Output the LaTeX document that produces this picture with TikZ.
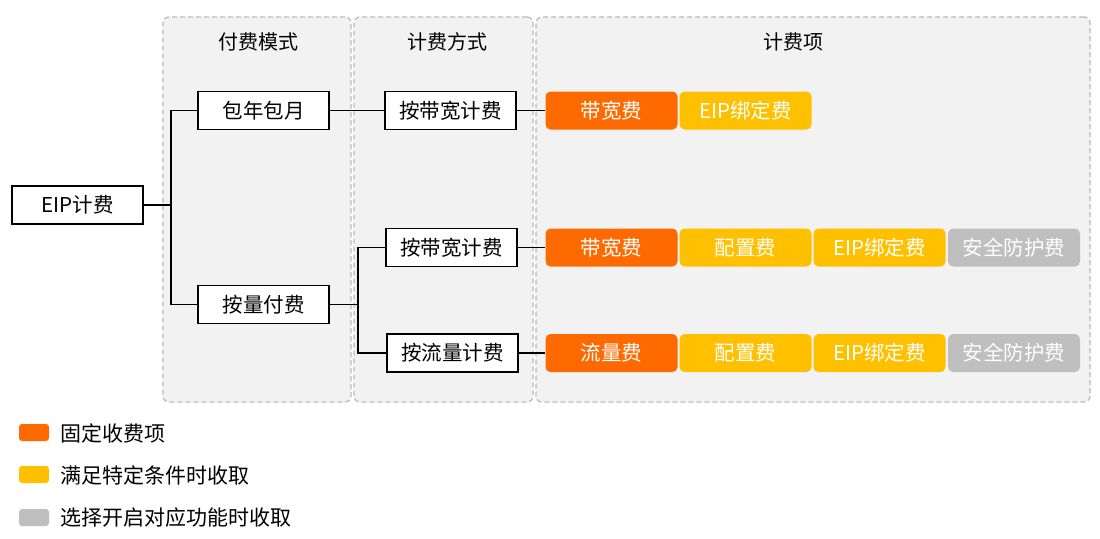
\documentclass[tikz,border=0pt]{standalone}
\usepackage{fontspec}
\setmainfont{Noto Sans CJK SC}
\definecolor{cOrange}{HTML}{FF6A00}
\definecolor{cYellow}{HTML}{FFC000}
\definecolor{cGray}{HTML}{BFBFBF}
\definecolor{cPanel}{HTML}{F2F2F2}
\definecolor{cDash}{HTML}{BBBBBB}
\begin{document}
\begin{tikzpicture}[x=1pt,y=-1pt,
  panel/.style={draw=cDash, fill=cPanel, rounded corners=6pt, line width=1.3pt, dash pattern=on 5pt off 3pt, inner sep=0pt},
  title/.style={font=\fontsize{20}{20}\selectfont, inner sep=0pt},
  wbox/.style={draw=black, line width=1.8pt, fill=white, minimum width=131pt, minimum height=38pt, inner sep=0pt, font=\fontsize{20.5}{20.5}\selectfont},
  fee/.style={rounded corners=5pt, minimum width=132pt, minimum height=38pt, inner sep=0pt, text=white, font=\fontsize{20.5}{20.5}\selectfont},
  fo/.style={fee, fill=cOrange},
  fy/.style={fee, fill=cYellow},
  fg/.style={fee, fill=cGray},
  legsq/.style={rounded corners=3pt, minimum width=30pt, minimum height=17pt, inner sep=0pt},
  legtxt/.style={anchor=west, inner sep=0pt, font=\fontsize{21}{21}\selectfont},
  conn/.style={draw=black, line width=1.8pt}
]
\useasboundingbox (0,0) rectangle (1100,538);
% panels
\node[panel, minimum width=188pt, minimum height=385pt] (p1) at (257,209.5) {};
\node[panel, minimum width=179pt, minimum height=385pt] (p2) at (443.5,209.5) {};
\node[panel, minimum width=554pt, minimum height=385pt] (p3) at (813,209.5) {};
\node[title] (t1) at (258,42) {付费模式};
\node[title] (t2) at (447,42) {计费方式};
\node[title] (t3) at (793,42) {计费项};
% boxes
\node[wbox] (eip) at (77.5,205) {EIP计费};
\node[wbox] (bn) at (263.5,110.5) {包年包月};
\node[wbox] (al) at (263.5,304.5) {按量付费};
\node[wbox] (bw1) at (450.5,110.5) {按带宽计费};
\node[wbox] (bw2) at (451.5,247.5) {按带宽计费};
\node[wbox] (ll) at (452.5,353) {按流量计费};
% fees
\node[fo] (f11) at (611.5,110.5) {带宽费};
\node[fy] (f12) at (745.5,110.5) {EIP绑定费};
\node[fo] (f21) at (611.5,247.5) {带宽费};
\node[fy] (f22) at (745.5,247.5) {配置费};
\node[fy] (f23) at (879.5,247.5) {EIP绑定费};
\node[fg] (f24) at (1014,247.5) {安全防护费};
\node[fo] (f31) at (611.5,353) {流量费};
\node[fy] (f32) at (745.5,353) {配置费};
\node[fy] (f33) at (879.5,353) {EIP绑定费};
\node[fg] (f34) at (1014,353) {安全防护费};
% connectors
\coordinate (j1) at (171,205);
\coordinate (j2) at (358,304.5);
\draw[conn] (eip.east) -- (j1);
\draw[conn] (bn.west) -| (j1);
\draw[conn] (al.west) -| (j1);
\draw[conn] (bn.east) -- (bw1.west);
\draw[conn] (al.east) -- (j2);
\draw[conn] (bw2.west) -| (j2);
\draw[conn] (ll.west) -| (j2);
\draw[conn] (bw1.east) -- (f11.west);
\draw[conn] (bw2.east) -- (f21.west);
\draw[conn] (ll.east) -- (f31.west);
% legend
\node[legsq, fill=cOrange] (l1) at (34,432.5) {};
\node[legsq, fill=cYellow] (l2) at (34,474.5) {};
\node[legsq, fill=cGray] (l3) at (34,517.5) {};
\node[legtxt] (lt1) at (60,433) {固定收费项};
\node[legtxt] (lt2) at (60,475) {满足特定条件时收取};
\node[legtxt] (lt3) at (60,518) {选择开启对应功能时收取};
\end{tikzpicture}
\end{document}
